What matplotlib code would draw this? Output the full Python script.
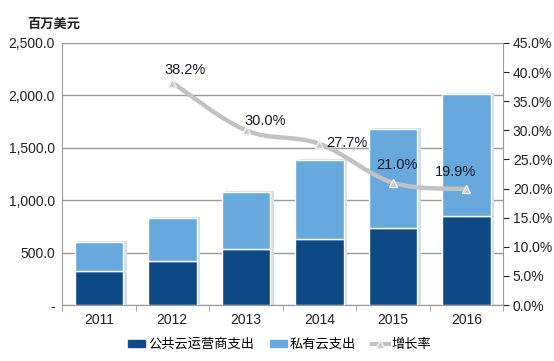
import matplotlib
matplotlib.use("Agg")
import matplotlib.pyplot as plt
from matplotlib.path import Path
from matplotlib.patches import PathPatch
from matplotlib.lines import Line2D
from matplotlib.patches import Patch
from matplotlib.ticker import FuncFormatter, MultipleLocator

plt.rcParams['font.family'] = ['Liberation Sans', 'Noto Sans CJK SC', 'DejaVu Sans']

years = ["2011", "2012", "2013", "2014", "2015", "2016"]
public_cloud = [324, 420, 533, 630, 735, 850]
private_cloud = [276, 410, 545, 755, 940, 1160]
growth_years = ["2012", "2013", "2014", "2015", "2016"]
growth = [38.2, 30.0, 27.7, 21.0, 19.9]
growth_labels = ["38.2%", "30.0%", "27.7%", "21.0%", "19.9%"]

dark = "#0d4a85"
light = "#68a9dd"
line_c = "#c2c2c2"

fig = plt.figure(figsize=(5.54, 3.61), dpi=100)
ax = fig.add_axes([0.112, 0.155, 0.796, 0.726])
x = list(range(len(years)))
totals = [a + b for a, b in zip(public_cloud, private_cloud)]
# soft shadow behind bars
ax.bar([xi + 0.05 for xi in x], [t + 10 for t in totals], width=0.66, color="#d8dde2", zorder=2)
ax.bar(x, public_cloud, width=0.66, color=dark, edgecolor="white", linewidth=1.0, zorder=3)
ax.bar(x, private_cloud, bottom=public_cloud, width=0.66, color=light, edgecolor="white", linewidth=1.0, zorder=3)
ax.set_ylim(0, 2500)
ax.set_xlim(-0.5, 5.5)
ax.yaxis.set_major_locator(MultipleLocator(500))
ax.yaxis.set_major_formatter(FuncFormatter(lambda v, p: "-" if v == 0 else f"{v:,.1f}"))
ax.grid(axis="y", color="#9a9a9a", linewidth=1.0, zorder=0)
ax.set_axisbelow(True)
ax.set_xticks(x)
ax.set_xticklabels(years)
ax.set_xticks([i + 0.5 for i in range(-1, 6)], minor=True)
ax.tick_params(axis="x", which="major", length=0, pad=6, labelsize=10, colors="#222222")
ax.tick_params(axis="x", which="minor", length=4, color="#9a9a9a")
ax.tick_params(axis="y", length=0, pad=5, labelsize=10, colors="#222222")
for s in ["top", "right"]:
    ax.spines[s].set_visible(False)
for s in ["left", "bottom"]:
    ax.spines[s].set_color("#9a9a9a")

ax2 = ax.twinx()
ax2.set_ylim(0, 45)
ax2.yaxis.set_major_locator(MultipleLocator(5))
ax2.yaxis.set_major_formatter(FuncFormatter(lambda v, p: f"{v:.1f}%"))
ax2.tick_params(axis="y", length=4, labelsize=10, pad=3, colors="#222222")
for s in ["top", "left", "bottom"]:
    ax2.spines[s].set_visible(False)
ax2.spines["right"].set_color("#9a9a9a")
for t in ax2.yaxis.get_ticklines():
    t.set_color("#9a9a9a")

gx = [years.index(y) for y in growth_years]
# smooth curve through data points (Catmull-Rom as cubic Bezier)
pts = list(zip(gx, growth))
verts = [pts[0]]
codes = [Path.MOVETO]
for i in range(len(pts) - 1):
    p0 = pts[i - 1] if i > 0 else pts[i]
    p1 = pts[i]
    p2 = pts[i + 1]
    p3 = pts[i + 2] if i + 2 < len(pts) else pts[i + 1]
    c1 = (p1[0] + (p2[0] - p0[0]) / 6, p1[1] + (p2[1] - p0[1]) / 6)
    c2 = (p2[0] - (p3[0] - p1[0]) / 6, p2[1] - (p3[1] - p1[1]) / 6)
    verts += [c1, c2, p2]
    codes += [Path.CURVE4] * 3
ax2.add_patch(PathPatch(Path(verts, codes), facecolor="none", edgecolor=line_c, linewidth=3.2, zorder=4))
ax2.plot(gx, growth, linestyle="none", marker="^", markersize=6, color="#c8c8c8",
         markeredgecolor="#eeeeee", zorder=5)

offsets = [(0.18, 2.2), (0.26, 1.6), (0.38, 0.2), (0.05, 3.0), (-0.15, 3.0)]
for xi, g, lab, (dx, dy) in zip(gx, growth, growth_labels, offsets):
    ax2.text(xi + dx, g + dy, lab, ha="center", va="center", fontsize=10.5,
             color="#1a1a2a", zorder=6)

fig.text(0.049, 0.922, "百万美元", fontsize=9.5, fontweight="bold", color="#222222")

handles = [Patch(facecolor=dark, edgecolor=dark),
           Patch(facecolor=light, edgecolor=light),
           Line2D([0], [0], color=line_c, linewidth=3, marker="^", markersize=6,
                  markerfacecolor="#c8c8c8", markeredgecolor="#eeeeee")]
fig.legend(handles, ["公共云运营商支出", "私有云支出", "增长率"], loc="center",
           bbox_to_anchor=(0.505, 0.045), ncol=3, frameon=False, fontsize=9.5,
           handlelength=1.3, handleheight=0.5, handletextpad=0.2, columnspacing=1.2)

fig.savefig("out.png", dpi=100, facecolor="white")
